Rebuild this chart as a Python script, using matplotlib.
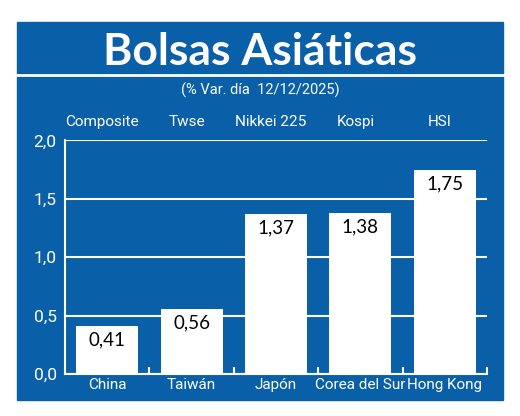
import matplotlib
matplotlib.use("Agg")
import matplotlib.pyplot as plt
from matplotlib.patches import Rectangle
from matplotlib.ticker import FixedLocator, FuncFormatter

# datos
paises = ["China", "Taiwán", "Japón", "Corea del Sur", "Hong Kong"]
indices = ["Composite", "Twse", "Nikkei 225", "Kospi", "HSI"]
variacion = [0.41, 0.56, 1.37, 1.38, 1.75]
yticks = [0.0, 0.5, 1.0, 1.5, 2.0]

azul = "#0a60a8"
narrow = ["Roboto", "DejaVu Sans"]

fig = plt.figure(figsize=(5.2, 4.16), dpi=100)
fig.patch.set_facecolor("white")

# fondo: panel azul y línea blanca bajo el título
bg = fig.add_axes([0, 0, 1, 1], zorder=-1)
bg.set_xlim(0, 1)
bg.set_ylim(0, 1)
bg.axis("off")
bg.add_patch(Rectangle((0.0327, 0.0385), 0.9346, 0.9085, color=azul))
bg.plot([0.0327, 0.9673], [0.8197, 0.8197], color="white", lw=2)

fig.text(0.5, 0.8438, "Bolsas Asiáticas", ha="center", va="baseline",
         color="white", fontsize=32, fontweight="bold", family=["Lato", "DejaVu Sans"])
fig.text(0.5, 0.7837, "(% Var. día  12/12/2025)", ha="center", va="center",
         color="white", fontsize=10.5, family=narrow)

ax = fig.add_axes([0.125, 0.101, 0.8115, 0.5613])
ax.set_facecolor(azul)
x = range(len(paises))
ax.bar(x, variacion, width=0.735, color="white", zorder=3)
for i, v in enumerate(variacion):
    ax.annotate(f"{v:.2f}".replace(".", ","), (i, v), xytext=(0, -4),
                textcoords="offset points", ha="center", va="top",
                fontsize=13.5, color="black", family=["Lato", "DejaVu Sans"], zorder=4)
    # nombre del índice, encima del gráfico
    ax.annotate(indices[i], (i - 0.06, 1.0), xycoords=("data", "axes fraction"),
                xytext=(0, 13), textcoords="offset points", ha="center", va="center",
                color="white", fontsize=11, family=narrow)

ax.set_xlim(-0.5, 4.5)
ax.set_ylim(0, 2.0)
ax.set_yticks(yticks)
ax.yaxis.set_major_formatter(FuncFormatter(lambda v, p: f"{v:.1f}".replace(".", ",")))
ax.grid(axis="y", color="white", lw=1.5, zorder=1)
ax.set_axisbelow(True)
ax.set_xticks(list(x))
ax.set_xticklabels(paises)
ax.xaxis.set_minor_locator(FixedLocator([0.5, 1.5, 2.5, 3.5, 4.5]))
ax.tick_params(axis="x", which="major", length=0, pad=3, labelcolor="white", labelsize=11)
ax.tick_params(axis="x", which="minor", direction="in", length=5, color="white", width=1.5)
ax.tick_params(axis="y", length=0, pad=6, labelcolor="white", labelsize=12.5)
for lab in ax.get_xticklabels() + ax.get_yticklabels():
    lab.set_family(narrow)
for s in ["top", "right"]:
    ax.spines[s].set_visible(False)
for s in ["left", "bottom"]:
    ax.spines[s].set_color("white")
    ax.spines[s].set_linewidth(1.5)

fig.savefig("out.png", dpi=100, facecolor="white")
